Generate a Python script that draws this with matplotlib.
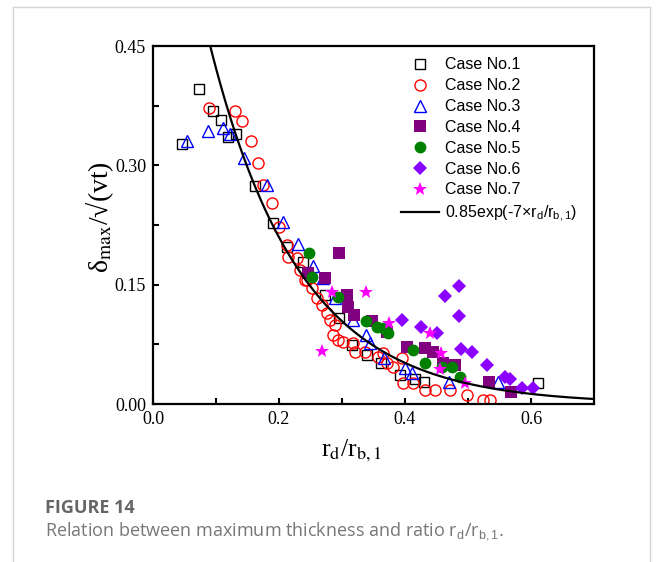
import numpy as np
import matplotlib
matplotlib.use('Agg')
import matplotlib.pyplot as plt
from matplotlib.lines import Line2D

plt.rcParams['mathtext.fontset'] = 'custom'
plt.rcParams['mathtext.rm'] = 'Liberation Sans'
plt.rcParams['mathtext.it'] = 'Liberation Sans:italic'

# case data (x = rd/rb1, y = delta_max/sqrt(vt))
c1_x = [0.046, 0.073, 0.095, 0.108, 0.119, 0.132, 0.162, 0.190, 0.213, 0.238,
        0.273, 0.295, 0.316, 0.340, 0.362, 0.392, 0.416, 0.430, 0.611]
c1_y = [0.327, 0.396, 0.368, 0.357, 0.336, 0.339, 0.274, 0.227, 0.197, 0.178,
        0.137, 0.108, 0.074, 0.062, 0.052, 0.036, 0.032, 0.028, 0.026]

c2_x = [0.089, 0.130, 0.141, 0.156, 0.167, 0.175, 0.189, 0.200, 0.213, 0.229,
        0.233, 0.241, 0.214, 0.244, 0.252, 0.260, 0.268, 0.276, 0.281, 0.289,
        0.286, 0.294, 0.302, 0.317, 0.321, 0.337, 0.357, 0.371, 0.365, 0.381,
        0.395, 0.397, 0.413, 0.432, 0.448, 0.471, 0.498, 0.524, 0.535]
c2_y = [0.372, 0.368, 0.356, 0.331, 0.303, 0.275, 0.253, 0.222, 0.200, 0.183,
        0.168, 0.156, 0.185, 0.156, 0.146, 0.133, 0.124, 0.114, 0.106, 0.099,
        0.087, 0.080, 0.078, 0.077, 0.065, 0.065, 0.059, 0.052, 0.064, 0.047,
        0.058, 0.026, 0.026, 0.018, 0.018, 0.018, 0.011, 0.005, 0.005]

c3_x = [0.054, 0.087, 0.111, 0.122, 0.144, 0.181, 0.206, 0.230, 0.254, 0.270,
        0.289, 0.317, 0.338, 0.344, 0.367, 0.400, 0.411, 0.470, 0.548]
c3_y = [0.331, 0.343, 0.347, 0.340, 0.309, 0.275, 0.229, 0.201, 0.173, 0.158,
        0.133, 0.106, 0.087, 0.077, 0.058, 0.045, 0.039, 0.028, 0.028]

c4_x = [0.295, 0.246, 0.273, 0.308, 0.310, 0.319, 0.348, 0.371, 0.403, 0.432,
        0.445, 0.460, 0.479, 0.533, 0.568]
c4_y = [0.190, 0.165, 0.158, 0.137, 0.122, 0.112, 0.104, 0.090, 0.072, 0.070,
        0.065, 0.052, 0.049, 0.028, 0.015]

c5_x = [0.248, 0.252, 0.294, 0.338, 0.355, 0.365, 0.373, 0.413, 0.432, 0.459,
        0.475, 0.487]
c5_y = [0.190, 0.160, 0.135, 0.104, 0.097, 0.095, 0.089, 0.068, 0.052, 0.047,
        0.047, 0.034]

c6_x = [0.395, 0.425, 0.451, 0.463, 0.486, 0.486, 0.489, 0.506, 0.530, 0.559,
        0.567, 0.586, 0.603]
c6_y = [0.106, 0.097, 0.089, 0.136, 0.148, 0.111, 0.069, 0.065, 0.049, 0.034,
        0.032, 0.020, 0.020]

c7_x = [0.284, 0.338, 0.268, 0.375, 0.440, 0.457, 0.456, 0.495]
c7_y = [0.141, 0.141, 0.067, 0.102, 0.089, 0.064, 0.044, 0.026]

fit_a = 0.85
fit_b = -7.0

fig = plt.figure(figsize=(6.56, 5.62), dpi=100)
ax = fig.add_axes([0.2332, 0.2811, 0.6723, 0.6370])

ax.plot(c1_x, c1_y, 's', ls='none', mfc='none', mec='black', ms=6.8, mew=1.0, label='Case No.1')
ax.plot(c2_x, c2_y, 'o', ls='none', mfc='none', mec='red', ms=8.0, mew=1.0, label='Case No.2')
ax.plot(c3_x, c3_y, '^', ls='none', mfc='none', mec='blue', ms=8.5, mew=1.0, label='Case No.3')
ax.plot(c4_x, c4_y, 's', ls='none', color='#800080', ms=8.0, mew=0, label='Case No.4')
ax.plot(c5_x, c5_y, 'o', ls='none', color='#008000', ms=8.5, mew=0, label='Case No.5')
ax.plot(c6_x, c6_y, 'D', ls='none', color='#8B00FF', ms=7.0, mew=0, label='Case No.6')
ax.plot(c7_x, c7_y, '*', ls='none', color='#FF00FF', ms=10.5, mew=0, label='Case No.7')

xs = np.linspace(0.0, 0.7, 300)
ax.plot(xs, fit_a * np.exp(fit_b * xs), color='black', lw=1.6,
        label='0.85exp(-7×r$_\\mathrm{d}$/r$_\\mathrm{b,1}$)')

ax.set_xlim(0, 0.7)
ax.set_ylim(0, 0.45)
ax.set_xticks([0.0, 0.2, 0.4, 0.6])
ax.set_xticks([0.1, 0.3, 0.5], minor=True)
ax.set_yticks([0.0, 0.15, 0.30, 0.45])
ax.set_yticks([0.075, 0.225, 0.375], minor=True)
ax.set_xticklabels(['0.0', '0.2', '0.4', '0.6'])
ax.set_yticklabels(['0.00', '0.15', '0.30', '0.45'])
for lab in ax.get_xticklabels() + ax.get_yticklabels():
    lab.set_fontfamily('Liberation Serif')
    lab.set_fontsize(13)
ax.tick_params(which='both', direction='in', length=4.5, width=1.5,
               top=False, right=False, pad=5)
for sp in ax.spines.values():
    sp.set_linewidth(1.6)

ax.set_xlabel('r$_\\mathrm{d}$/r$_\\mathrm{b,1}$', fontfamily='Liberation Serif',
              fontsize=18.5, math_fontfamily='stix')
ax.set_ylabel('δ$_\\mathrm{max}$/√(vt)', fontfamily='Liberation Serif',
              fontsize=20, math_fontfamily='stix')
ax.xaxis.set_label_coords(0.449, -0.092)
ax.yaxis.set_label_coords(-0.083, 0.521)

ax.legend(loc='upper left', bbox_to_anchor=(0.562, 0.968), frameon=False,
          prop={'family': 'Liberation Sans', 'size': 11.5, 'math_fontfamily': 'custom'},
          labelspacing=0.365, handlelength=2.4, handletextpad=0.35,
          borderpad=0, borderaxespad=0)

# page frame and caption
W, H = 656.0, 562.0
fc = '#d4d4d4'
fig.add_artist(Line2D([13 / W, 13 / W], [0, 1 - 7 / H], color=fc, lw=1.0))
fig.add_artist(Line2D([13 / W, 650 / W], [1 - 7 / H, 1 - 7 / H], color=fc, lw=1.0))
fig.add_artist(Line2D([650 / W, 650 / W], [0, 1 - 7 / H], color=fc, lw=1.0))

fig.text(45 / W, 1 - 508 / H, 'FIGURE 14', fontfamily='Open Sans', fontweight='bold',
         fontsize=13, color='#666666', va='center')
fig.text(45 / W, 1 - 531 / H, 'Relation between maximum thickness and ratio r$_\\mathrm{d}$/r$_\\mathrm{b,1}$.',
         fontfamily='Open Sans', fontsize=13, color='#777777', va='center',
         math_fontfamily='custom')

fig.savefig('out.png', dpi=100)
